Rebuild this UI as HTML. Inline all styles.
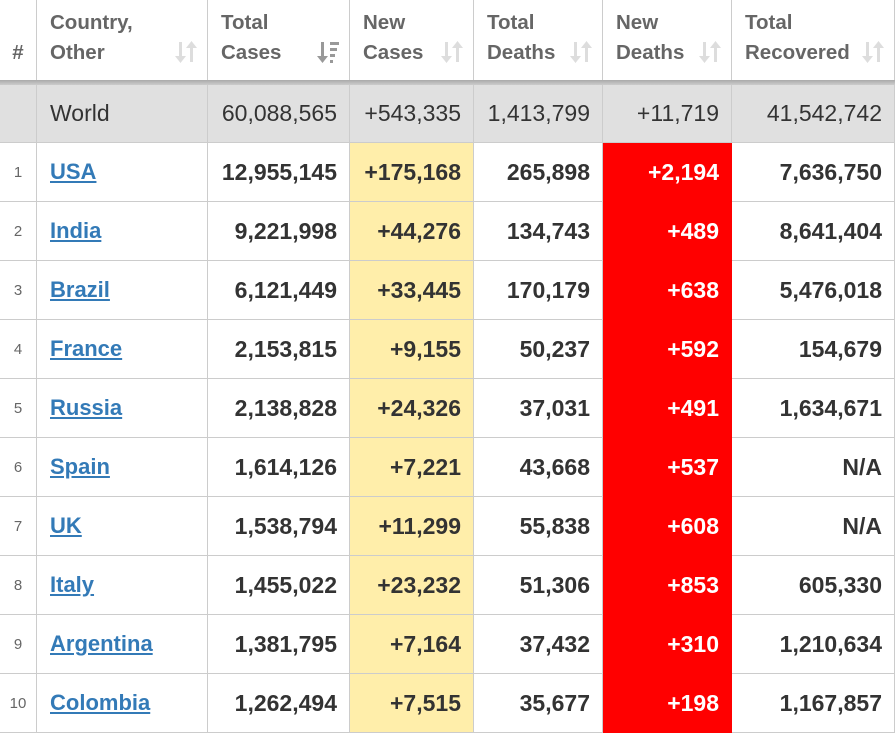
<!DOCTYPE html><html><head><style>
body{margin:0;width:895px;height:731px;overflow:hidden;background:#fff;font-family:"Liberation Sans",Arial,sans-serif}
.c{position:absolute;box-sizing:border-box;border-right:1px solid #ccc;border-bottom:1px solid #ccc;display:flex;align-items:center;white-space:nowrap}
.h{color:#666;font-weight:bold;font-size:20.5px;line-height:30px;align-items:flex-end;padding-bottom:14px;height:82px;border-bottom:none}
.s{position:absolute;right:10px;bottom:18px;width:22px;height:24px}
.r{justify-content:flex-end;padding-right:12px}
.n{justify-content:center;color:#666;font-size:15px}
.d{font-weight:bold;font-size:23px;color:#333}
a{color:#337ab7;text-decoration:underline;font-weight:bold;font-size:22px}
</style></head><body>
<div id="t"></div>
<div style="position:absolute;left:0;top:80px;width:895px;height:5px;background:linear-gradient(#aaa,#ccc)"></div>
<script>
var X=[0,37,208,350,474,603,732,895];
var H=["#","Country,<br>Other","Total<br>Cases","New<br>Cases","Total<br>Deaths","New<br>Deaths","Total<br>Recovered"];
var D=[["1","USA","12,955,145","+175,168","265,898","+2,194","7,636,750"],
["2","India","9,221,998","+44,276","134,743","+489","8,641,404"],
["3","Brazil","6,121,449","+33,445","170,179","+638","5,476,018"],
["4","France","2,153,815","+9,155","50,237","+592","154,679"],
["5","Russia","2,138,828","+24,326","37,031","+491","1,634,671"],
["6","Spain","1,614,126","+7,221","43,668","+537","N/A"],
["7","UK","1,538,794","+11,299","55,838","+608","N/A"],
["8","Italy","1,455,022","+23,232","51,306","+853","605,330"],
["9","Argentina","1,381,795","+7,164","37,432","+310","1,210,634"],
["10","Colombia","1,262,494","+7,515","35,677","+198","1,167,857"]];
var SA='<svg class="s" viewBox="0 0 22 24"><g fill="#ddd"><rect x="4" y="2" width="3" height="16"/><polygon points="0,16 11,16 5.5,23"/><rect x="15" y="6" width="3" height="16"/><polygon points="11,8 22,8 16.5,1"/></g></svg>';
var SB='<svg class="s" viewBox="0 0 22 24"><g fill="#999"><rect x="4" y="2" width="3" height="16"/><polygon points="0,16 11,16 5.5,23"/><rect x="13" y="2" width="9" height="3"/><rect x="13" y="8" width="7" height="3"/><rect x="13" y="14" width="5" height="3"/><rect x="13" y="20" width="3" height="3"/></g></svg>';
var o="";
function cell(i,y,h,cls,st,html){o+='<div class="c '+cls+'" style="left:'+X[i]+'px;top:'+y+'px;width:'+(X[i+1]-X[i])+'px;height:'+h+'px;'+st+'">'+html+'</div>';}
for(var i=0;i<7;i++){cell(i,0,82,"h",i==0?"justify-content:center":"padding-left:13px",H[i]+(i>0?(i==2?SB:SA):''));}
var W=["","World","60,088,565","+543,335","1,413,799","+11,719","41,542,742"];
for(var i=0;i<7;i++)cell(i,85,58,i==1?"":"r","background:#e0e0e0;font-size:23px;color:#333;"+(i==1?"padding-left:13px":""),W[i]);
for(var r=0;r<10;r++){var y=143+r*59;var v=D[r];
cell(0,y,59,"n","",v[0]);
cell(1,y,59,"","padding-left:13px",'<a>'+v[1]+'</a>');
for(var i=2;i<7;i++){var st="";if(i==3)st="background:#ffeeaa";if(i==5)st="background:#ff0000;color:#fff;border-color:#ff0000";cell(i,y,59,"r d",st,v[i]);}}
document.getElementById("t").innerHTML=o;
</script></body></html>
